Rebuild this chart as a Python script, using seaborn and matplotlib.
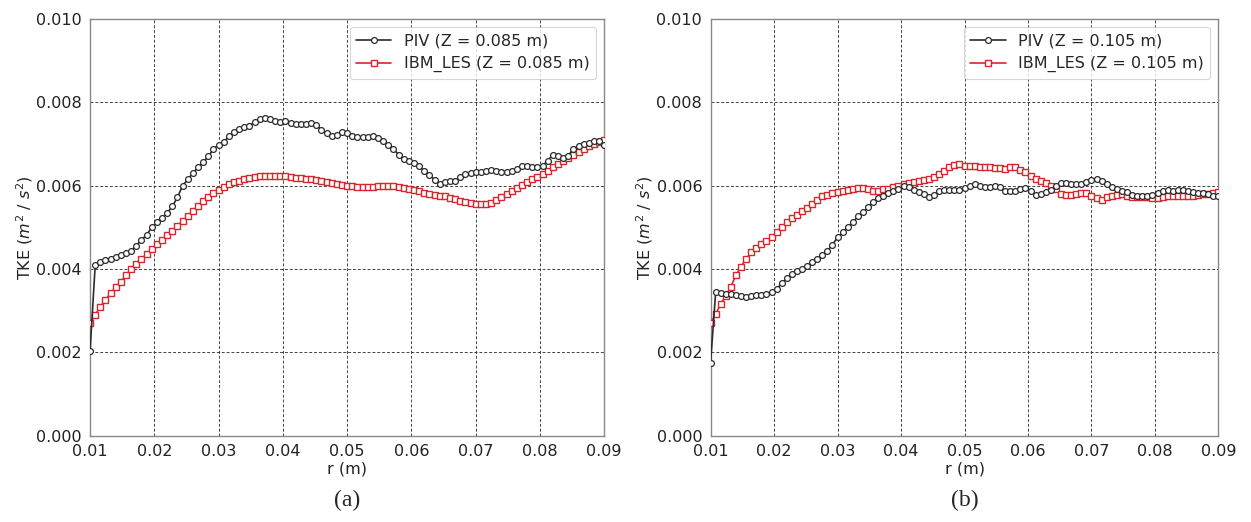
import numpy as np
import pandas as pd
import matplotlib
matplotlib.use("Agg")
import matplotlib.pyplot as plt
import seaborn as sns

# radial sample positions (m)
r = np.round(np.linspace(0.01, 0.09, 101), 5)

piv_a = [0.00203, 0.00410, 0.00418, 0.00421, 0.00425, 0.00430, 0.00434, 0.00438, 0.00444, 0.00456,
         0.00470, 0.00482, 0.00500, 0.00512, 0.00522, 0.00535, 0.00550, 0.00572, 0.00600, 0.00615,
         0.00630, 0.00644, 0.00656, 0.00670, 0.00688, 0.00698, 0.00705, 0.00718, 0.00728, 0.00736,
         0.00741, 0.00744, 0.00752, 0.00760, 0.00762, 0.00760, 0.00755, 0.00753, 0.00755, 0.00750,
         0.00747, 0.00748, 0.00748, 0.00750, 0.00745, 0.00734, 0.00726, 0.00720, 0.00721, 0.00729,
         0.00726, 0.00720, 0.00716, 0.00716, 0.00716, 0.00720, 0.00714, 0.00706, 0.00698, 0.00688,
         0.00674, 0.00664, 0.00660, 0.00655, 0.00646, 0.00636, 0.00626, 0.00614, 0.00605, 0.00608,
         0.00612, 0.00612, 0.00620, 0.00627, 0.00631, 0.00633, 0.00633, 0.00635, 0.00638, 0.00634,
         0.00632, 0.00632, 0.00635, 0.00640, 0.00646, 0.00646, 0.00644, 0.00644, 0.00648, 0.00660,
         0.00674, 0.00672, 0.00666, 0.00672, 0.00688, 0.00696, 0.00700, 0.00703, 0.00706, 0.00706,
         0.00698]

les_a = [0.00270, 0.00290, 0.00310, 0.00326, 0.00342, 0.00356, 0.00370, 0.00385, 0.00400, 0.00412,
         0.00424, 0.00436, 0.00448, 0.00459, 0.00470, 0.00482, 0.00492, 0.00504, 0.00515, 0.00526,
         0.00538, 0.00550, 0.00562, 0.00572, 0.00582, 0.00590, 0.00597, 0.00603, 0.00608, 0.00612,
         0.00616, 0.00619, 0.00621, 0.00622, 0.00623, 0.00623, 0.00623, 0.00624, 0.00623, 0.00621,
         0.00619, 0.00618, 0.00617, 0.00615, 0.00613, 0.00611, 0.00608, 0.00606, 0.00604, 0.00601,
         0.00600, 0.00598, 0.00596, 0.00596, 0.00596, 0.00597, 0.00598, 0.00600, 0.00600, 0.00599,
         0.00597, 0.00594, 0.00592, 0.00589, 0.00586, 0.00583, 0.00580, 0.00578, 0.00576, 0.00574,
         0.00571, 0.00567, 0.00563, 0.00560, 0.00558, 0.00556, 0.00556, 0.00556, 0.00558, 0.00565,
         0.00572, 0.00580, 0.00588, 0.00595, 0.00602, 0.00609, 0.00615, 0.00621, 0.00628, 0.00635,
         0.00644, 0.00652, 0.00659, 0.00666, 0.00674, 0.00681, 0.00688, 0.00694, 0.00699, 0.00704,
         0.00709]

piv_b = [0.00175, 0.00344, 0.00342, 0.00340, 0.00339, 0.00338, 0.00336, 0.00334, 0.00335, 0.00337,
         0.00338, 0.00339, 0.00344, 0.00352, 0.00366, 0.00378, 0.00388, 0.00395, 0.00400, 0.00407,
         0.00416, 0.00425, 0.00434, 0.00444, 0.00458, 0.00476, 0.00488, 0.00500, 0.00512, 0.00526,
         0.00536, 0.00548, 0.00560, 0.00570, 0.00576, 0.00583, 0.00588, 0.00592, 0.00598, 0.00596,
         0.00590, 0.00584, 0.00579, 0.00572, 0.00578, 0.00586, 0.00589, 0.00589, 0.00589, 0.00590,
         0.00594, 0.00598, 0.00604, 0.00600, 0.00596, 0.00596, 0.00598, 0.00596, 0.00588, 0.00587,
         0.00588, 0.00592, 0.00594, 0.00588, 0.00578, 0.00580, 0.00584, 0.00590, 0.00600, 0.00606,
         0.00606, 0.00605, 0.00605, 0.00603, 0.00608, 0.00614, 0.00615, 0.00612, 0.00603, 0.00596,
         0.00592, 0.00588, 0.00584, 0.00578, 0.00576, 0.00576, 0.00576, 0.00578, 0.00583, 0.00588,
         0.00589, 0.00588, 0.00589, 0.00590, 0.00588, 0.00584, 0.00582, 0.00582, 0.00580, 0.00575,
         0.00574]

les_b = [0.00270, 0.00292, 0.00316, 0.00336, 0.00358, 0.00385, 0.00406, 0.00424, 0.00440, 0.00450,
         0.00460, 0.00468, 0.00476, 0.00488, 0.00500, 0.00512, 0.00522, 0.00530, 0.00538, 0.00546,
         0.00556, 0.00566, 0.00574, 0.00578, 0.00582, 0.00584, 0.00588, 0.00590, 0.00592, 0.00594,
         0.00594, 0.00592, 0.00586, 0.00588, 0.00592, 0.00592, 0.00597, 0.00600, 0.00604, 0.00606,
         0.00608, 0.00611, 0.00614, 0.00617, 0.00620, 0.00627, 0.00636, 0.00644, 0.00650, 0.00652,
         0.00648, 0.00646, 0.00646, 0.00645, 0.00645, 0.00645, 0.00643, 0.00642, 0.00640, 0.00644,
         0.00644, 0.00638, 0.00632, 0.00624, 0.00616, 0.00612, 0.00606, 0.00600, 0.00592, 0.00580,
         0.00578, 0.00578, 0.00581, 0.00582, 0.00582, 0.00576, 0.00570, 0.00566, 0.00572, 0.00576,
         0.00578, 0.00580, 0.00576, 0.00573, 0.00573, 0.00572, 0.00572, 0.00570, 0.00570, 0.00572,
         0.00574, 0.00574, 0.00574, 0.00574, 0.00574, 0.00576, 0.00578, 0.00580, 0.00581, 0.00582,
         0.00584]

labels_a = ["PIV (Z = 0.085 m)", "IBM_LES (Z = 0.085 m)"]
labels_b = ["PIV (Z = 0.105 m)", "IBM_LES (Z = 0.105 m)"]
x_ticks = [0.01, 0.02, 0.03, 0.04, 0.05, 0.06, 0.07, 0.08, 0.09]
y_ticks = [0.000, 0.002, 0.004, 0.006, 0.008, 0.010]
captions = ["(a)", "(b)"]

sns.set_style("white")
plt.rcParams['font.family'] = ['DejaVu Sans']
plt.rcParams['mathtext.fontset'] = 'dejavusans'

fig = plt.figure(figsize=(12.51, 5.22), dpi=100)
ax_a = fig.add_axes([0.072, 0.165, 0.411, 0.799])
ax_b = fig.add_axes([0.568, 0.165, 0.406, 0.799])

black = "#2b2b2b"
red = "#d8262c"
fs = 11.5

for ax, piv, les, labs, cap in [(ax_a, piv_a, les_a, labels_a, captions[0]),
                                (ax_b, piv_b, les_b, labels_b, captions[1])]:
    df = pd.DataFrame({"r": r, "piv": piv, "les": les})
    sns.lineplot(data=df, x="r", y="les", ax=ax, color=red, linewidth=1.2,
                 marker="s", markersize=4.2, markerfacecolor="white",
                 markeredgecolor=red, markeredgewidth=1.0, label=labs[1], zorder=3)
    sns.lineplot(data=df, x="r", y="piv", ax=ax, color=black, linewidth=1.2,
                 marker="o", markersize=4.2, markerfacecolor="white",
                 markeredgecolor=black, markeredgewidth=0.9, label=labs[0], zorder=4)
    ax.set_xlim(0.01, 0.09)
    ax.set_ylim(0.0, 0.010)
    ax.set_xticks(x_ticks)
    ax.set_yticks(y_ticks)
    ax.set_xticklabels([f"{t:.2f}" for t in x_ticks], fontsize=fs)
    ax.set_yticklabels([f"{t:.3f}" for t in y_ticks], fontsize=fs)
    ax.tick_params(axis="both", direction="out", length=4, width=0.8, color="#555555",
                   pad=2, labelcolor="#222222")
    ax.grid(True, color="#222222", linestyle=(0, (3, 2)), linewidth=0.7, alpha=0.85)
    ax.set_axisbelow(True)
    for s in ax.spines.values():
        s.set_color("#888888")
        s.set_linewidth(1.0)
    ax.set_xlabel("r (m)", fontsize=fs, labelpad=2, color="#222222")
    ax.set_ylabel(r"TKE ($m^2$ / $s^2$)", fontsize=fs, labelpad=1, color="#222222")
    handles, lbls = ax.get_legend_handles_labels()
    order = [lbls.index(labs[0]), lbls.index(labs[1])]
    leg = ax.legend([handles[i] for i in order], [lbls[i] for i in order],
                    loc="upper right", fontsize=fs, frameon=True, fancybox=True,
                    borderaxespad=0.5, handlelength=2.2)
    leg.get_frame().set_edgecolor("#cccccc")
    leg.get_frame().set_linewidth(0.8)
    pos = ax.get_position()
    fig.text((pos.x0 + pos.x1) / 2, 0.042, cap, ha="center", va="center",
             fontsize=17, family="Liberation Serif")

fig.savefig("out.png", dpi=100)
